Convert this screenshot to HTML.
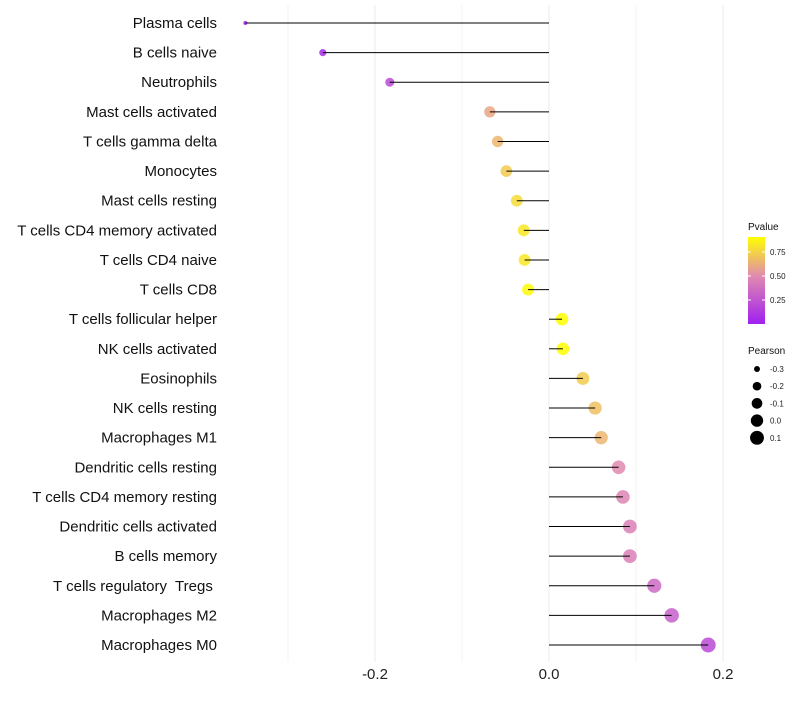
<!DOCTYPE html>
<html><head><meta charset="utf-8"><style>
body{margin:0;background:#fff}
svg text{font-family:"Liberation Sans",sans-serif;white-space:pre}
</style></head><body>
<svg id="chart" width="800" height="700" xmlns="http://www.w3.org/2000/svg">
<defs><linearGradient id="pg" x1="0" y1="1" x2="0" y2="0">
<stop offset="0" stop-color="#a020f0"/><stop offset="0.55" stop-color="#e08ab0"/><stop offset="1" stop-color="#ffff00"/>
</linearGradient></defs>
<g id="grid"></g><g id="marks"></g><g id="stems"></g><g id="labels"></g><g id="legend"></g>
</svg>
<script>
const categories=["Plasma cells","B cells naive","Neutrophils","Mast cells activated","T cells gamma delta","Monocytes","Mast cells resting","T cells CD4 memory activated","T cells CD4 naive","T cells CD8","T cells follicular helper","NK cells activated","Eosinophils","NK cells resting","Macrophages M1","Dendritic cells resting","T cells CD4 memory resting","Dendritic cells activated","B cells memory","T cells regulatory  Tregs ","Macrophages M2","Macrophages M0"];
const pearson=[-0.349,-0.260,-0.183,-0.068,-0.059,-0.049,-0.037,-0.029,-0.028,-0.024,0.015,0.016,0.039,0.053,0.060,0.080,0.085,0.093,0.093,0.121,0.141,0.183];
const pvalues=[0.0,0.05,0.2,0.6,0.65,0.72,0.78,0.82,0.82,0.88,0.95,0.92,0.72,0.68,0.65,0.5,0.48,0.45,0.45,0.35,0.3,0.2];
const xTicks=[-0.2,0.0,0.2];
const xMinor=[-0.3,-0.1,0.1];
const legendP=[0.75,0.50,0.25];
const legendS=[-0.3,-0.2,-0.1,0.0,0.1];
const NS="http://www.w3.org/2000/svg";
const x=v=>549+v*870;
const y=i=>23+i*(622/21);
const r=v=>Math.sqrt(4+Math.max(0,v+0.35)*98);
function lerp(a,b,t){return a.map((c,k)=>Math.round(c+(b[k]-c)*t));}
function col(p){const s=[[0,[160,32,240]],[0.5,[224,138,176]],[0.9,[255,255,0]]];p=Math.min(0.9,Math.max(0,p));
for(let k=0;k<2;k++){if(p<=s[k+1][0]){const c=lerp(s[k][1],s[k+1][1],(p-s[k][0])/(s[k+1][0]-s[k][0]));return`rgb(${c})`;}}return"rgb(255,255,0)";}
function mk(t,a,p){const e=document.createElementNS(NS,t);for(const k in a)e.setAttribute(k,a[k]);p.appendChild(e);return e;}
const G=document.getElementById('grid'),M=document.getElementById('marks'),S=document.getElementById('stems'),L=document.getElementById('labels'),LG=document.getElementById('legend');
xMinor.concat(xTicks).forEach(v=>{const e=mk('line',{x1:x(v),x2:x(v),y1:5,y2:662,stroke:'#ebebeb','stroke-width':xTicks.includes(v)?1:0.6},G);

});
xTicks.forEach(v=>{const t=mk('text',{x:x(v),y:679,'text-anchor':'middle','font-size':15,fill:'#222'},L);t.textContent=v.toFixed(1);

});
categories.forEach((c,i)=>{
const t=mk('text',{x:217,y:y(i)+5,'text-anchor':'end','font-size':15,fill:'#111'},L);t.textContent=c;


const d=mk('circle',{cx:x(pearson[i]),cy:y(i),r:r(pearson[i]),fill:col(pvalues[i]),'fill-opacity':0.85},M);


const ln=mk('line',{x1:x(0),x2:x(pearson[i]),y1:y(i),y2:y(i),stroke:'#000','stroke-width':1},S);


});
let t=mk('text',{x:748,y:230,'font-size':10,fill:'#111'},LG);t.textContent='Pvalue';


const bar=mk('rect',{x:748,y:237,width:17,height:87,fill:'url(#pg)'},LG);


legendP.forEach(v=>{const yy=324-v*96;
mk('line',{x1:748,x2:751,y1:yy,y2:yy,stroke:'#fff'},LG);mk('line',{x1:762,x2:765,y1:yy,y2:yy,stroke:'#fff'},LG);
const e=mk('text',{x:770,y:yy+3,'font-size':8,fill:'#222'},LG);e.textContent=v.toFixed(2);

});
t=mk('text',{x:748,y:354,'font-size':10,fill:'#111'},LG);t.textContent='Pearson';


legendS.forEach((v,k)=>{const yy=369+k*17.2;
const c=mk('circle',{cx:757,cy:yy,r:r(v),fill:'#000'},LG);


const e=mk('text',{x:770,y:yy+3,'font-size':8,fill:'#222'},LG);e.textContent=v.toFixed(1);

});
</script>
</body></html>
